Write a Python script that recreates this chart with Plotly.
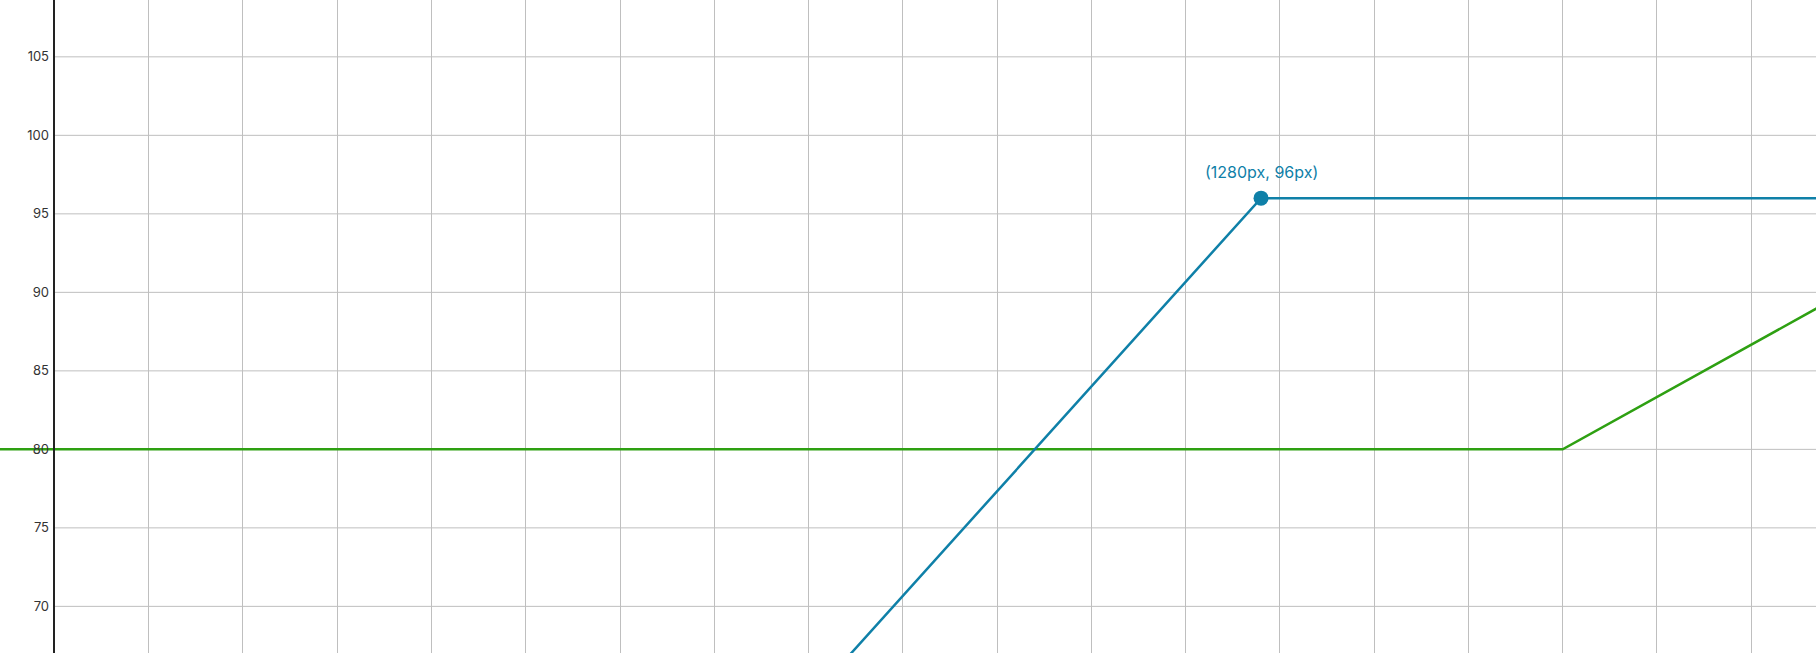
import plotly.graph_objects as go

# ---- data ----
blue_x = [800, 1280, 1870]
blue_y = [64, 96, 96]
green_x = [-100, 1600, 1870]
green_y = [80, 80, 89]
point_x = [1280]
point_y = [96]
point_label = ["(1280px, 96px)"]
y_ticks = [70, 75, 80, 85, 90, 95, 100, 105]
x_range = [-57.7, 1868.7]
y_range = [67.03, 108.62]

BLUE = "#0f80a8"
GREEN = "#2ea012"
GRID = "#bfbfbf"

fig = go.Figure()
fig.add_trace(go.Scatter(x=green_x, y=green_y, mode="lines",
                         line=dict(color=GREEN, width=2.5), hoverinfo="skip"))
fig.add_trace(go.Scatter(x=blue_x, y=blue_y, mode="lines",
                         line=dict(color=BLUE, width=2.5), hoverinfo="skip"))
fig.add_trace(go.Scatter(x=point_x, y=point_y, mode="markers",
                         marker=dict(color=BLUE, size=15),
                         cliponaxis=False, hoverinfo="skip"))
for px_, py_, lab in zip(point_x, point_y, point_label):
    fig.add_annotation(x=px_, y=py_, text=lab, showarrow=False, yshift=26,
                       font=dict(color=BLUE, size=16, family="Inter"))

# horizontal gridlines start at the y axis (x = 0)
for v in y_ticks:
    fig.add_shape(type="line", xref="x", yref="y", x0=0, x1=x_range[1],
                  y0=v, y1=v, line=dict(color=GRID, width=1), layer="below")

axis_pos = (0 - x_range[0]) / (x_range[1] - x_range[0])

fig.update_layout(
    width=1816, height=653,
    margin=dict(l=0, r=0, t=0, b=0),
    paper_bgcolor="white", plot_bgcolor="white",
    showlegend=False,
    font=dict(family="Inter", color="#333333", size=13),
    xaxis=dict(range=x_range, showgrid=True, gridcolor=GRID, gridwidth=1,
               dtick=100, tick0=0, zeroline=False, showticklabels=False,
               showline=False, ticks=""),
    yaxis=dict(range=y_range, showgrid=False, zeroline=False,
               tickvals=y_ticks, anchor="free", position=axis_pos,
               showline=True, linecolor="#222222", linewidth=1.5,
               ticks="outside", ticklen=0, ticklabelstandoff=2,
               tickfont=dict(size=13, color="#333333", family="Inter")),
)

fig.write_html(
    "out.html",
    config={"displayModeBar": False},
    post_script="document.body.style.margin='0';document.body.style.overflow='hidden';",
)
